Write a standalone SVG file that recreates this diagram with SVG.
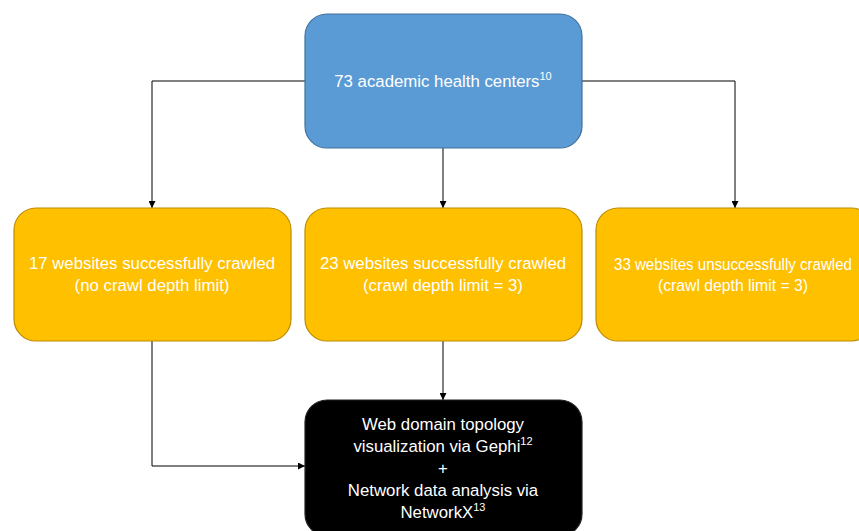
<svg xmlns="http://www.w3.org/2000/svg" width="859" height="531" viewBox="0 0 859 531">
  <style>
    .box-blue { fill: #5B9BD5; stroke: #41719C; stroke-width: 1.2; }
    .box-gold { fill: #FFC000; stroke: #BC8C00; stroke-width: 1.2; }
    .box-dark { fill: #000000; stroke: #222222; stroke-width: 1.2; }
    .label { font-family: "Liberation Sans", Arial, sans-serif; font-size: 16.8px; fill: #FFFFFF; text-anchor: middle; }
    .sup { font-size: 11px; }
    .link { fill: none; stroke: #000000; stroke-width: 1; }
  </style>
  <defs>
    <marker id="arrow" viewBox="0 0 10 10" refX="10" refY="5" markerWidth="7" markerHeight="7" orient="auto" markerUnits="userSpaceOnUse">
      <path d="M0,0 L10,5 L0,10 z" fill="#000000"/>
    </marker>
  </defs>
  <rect width="859" height="531" fill="#FFFFFF"/>

  <g id="connectors">
    <path class="link" d="M305,81 H152 V208" marker-end="url(#arrow)"/>
    <path class="link" d="M582,81 H735 V208" marker-end="url(#arrow)"/>
    <path class="link" d="M443,148 V208" marker-end="url(#arrow)"/>
    <path class="link" d="M443,341 V400" marker-end="url(#arrow)"/>
    <path class="link" d="M152,341 V466 H305" marker-end="url(#arrow)"/>
  </g>

  <g id="centers">
    <rect class="box-blue" x="305" y="14" width="277" height="134" rx="22"/>
    <text class="label" x="443" y="87">73 academic health centers<tspan class="sup" dy="-7">10</tspan></text>
  </g>

  <g id="crawled-unlimited">
    <rect class="box-gold" x="14" y="208" width="277" height="133" rx="22"/>
    <text class="label" x="152" y="269">17 websites successfully crawled</text>
    <text class="label" x="152" y="291">(no crawl depth limit)</text>
  </g>

  <g id="crawled-depth3">
    <rect class="box-gold" x="305" y="208" width="277" height="133" rx="22"/>
    <text class="label" x="443" y="269">23 websites successfully crawled</text>
    <text class="label" x="443" y="291">(crawl depth limit = 3)</text>
  </g>

  <g id="crawl-failed">
    <rect class="box-gold" x="596" y="208" width="277" height="133" rx="22"/>
    <text class="label" x="733" y="270" textLength="238" lengthAdjust="spacingAndGlyphs">33 websites unsuccessfully crawled</text>
    <text class="label" x="733" y="291" textLength="150" lengthAdjust="spacingAndGlyphs">(crawl depth limit = 3)</text>
  </g>

  <g id="analysis">
    <rect class="box-dark" x="305" y="400" width="277" height="136" rx="22"/>
    <text class="label" x="443" y="430">Web domain topology</text>
    <text class="label" x="443" y="452">visualization via Gephi<tspan class="sup" dy="-7">12</tspan></text>
    <text class="label" x="443" y="474">+</text>
    <text class="label" x="443" y="496">Network data analysis via</text>
    <text class="label" x="443" y="518">NetworkX<tspan class="sup" dy="-7">13</tspan></text>
  </g>
</svg>
